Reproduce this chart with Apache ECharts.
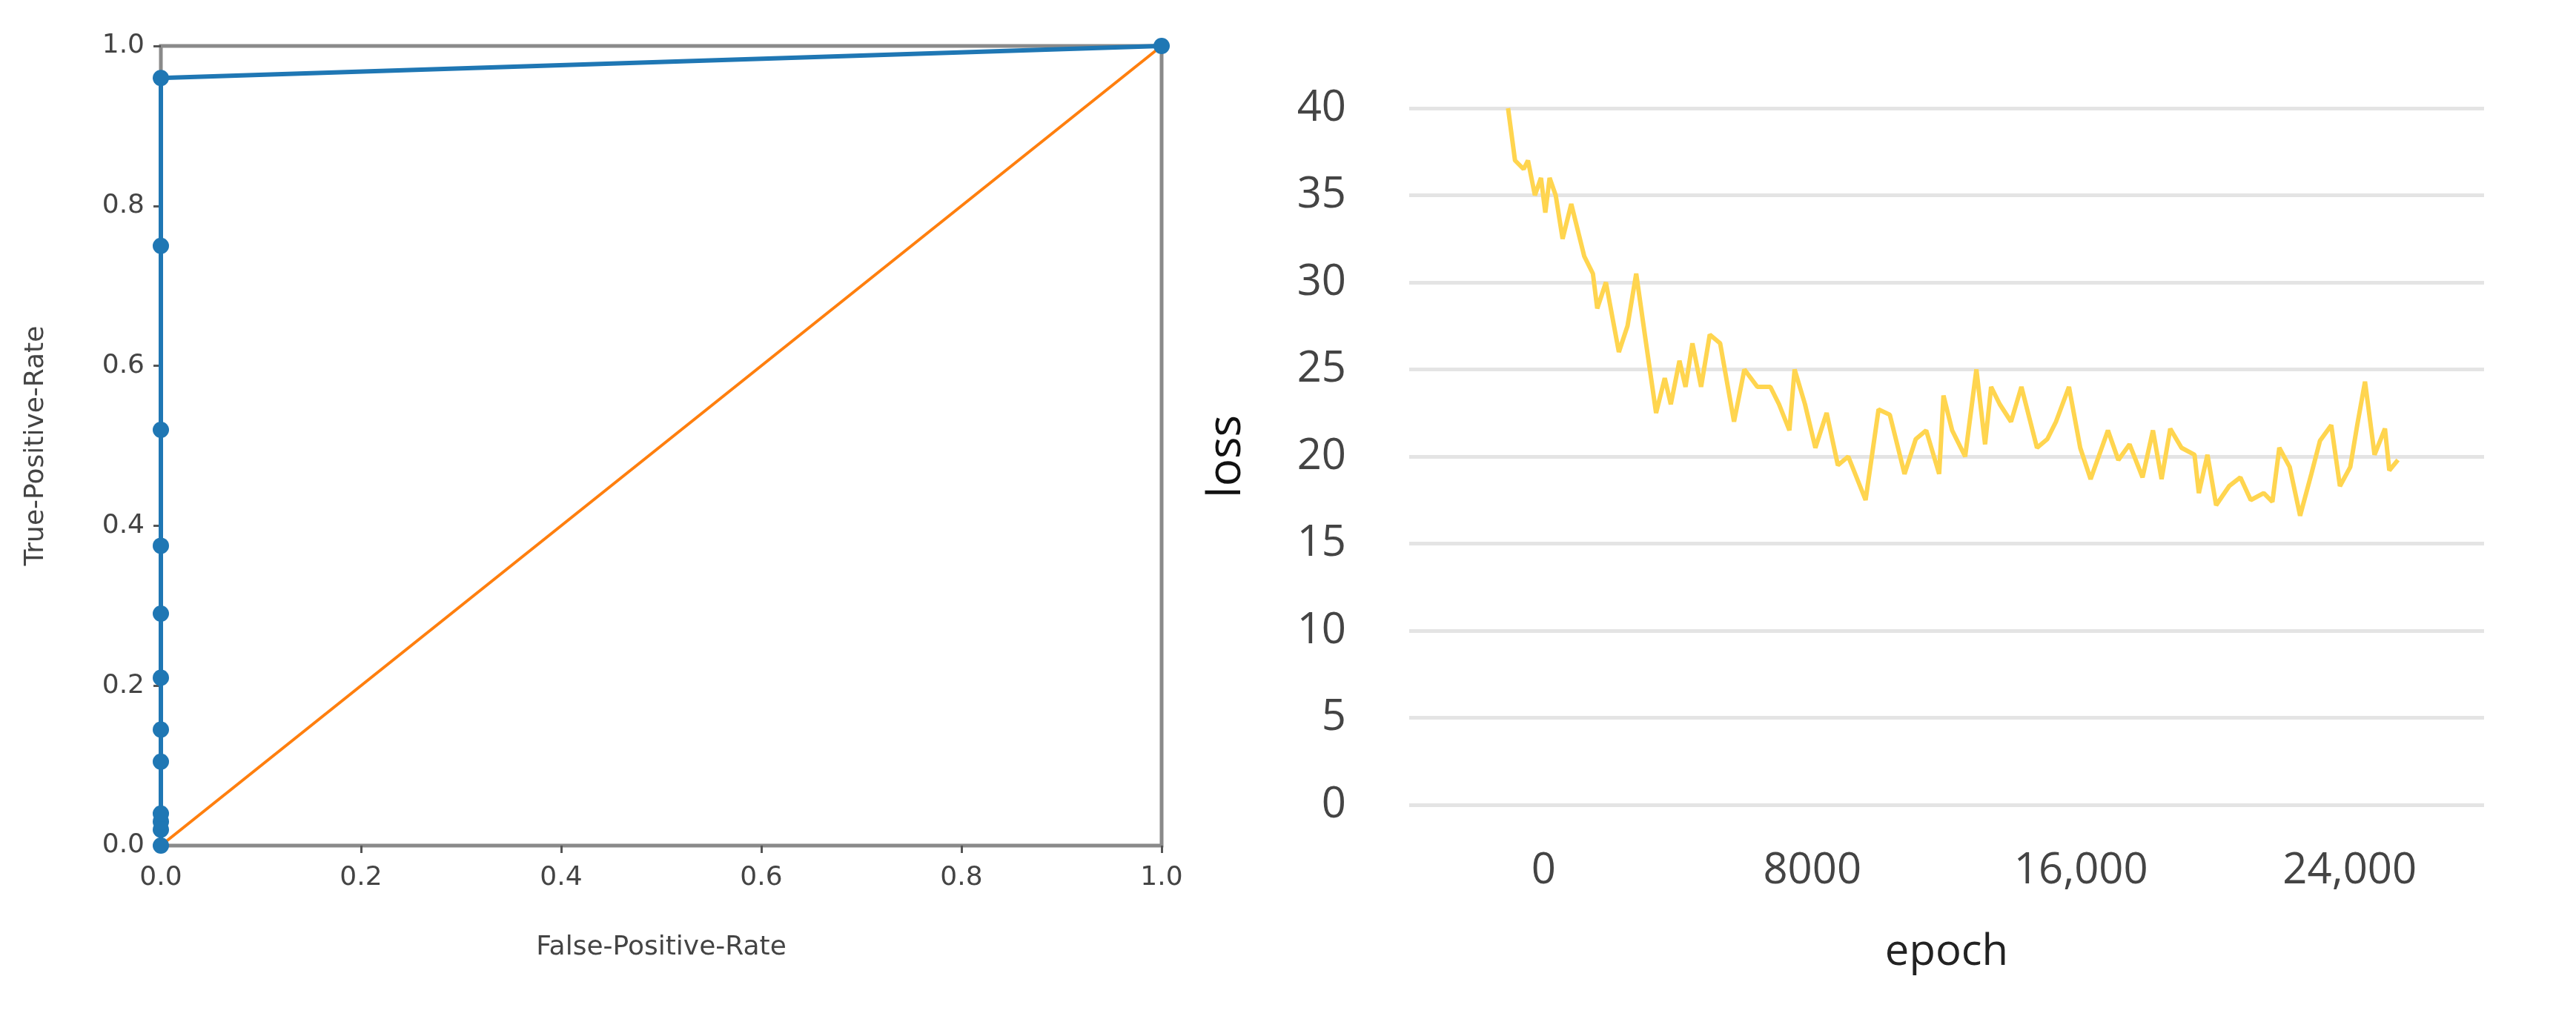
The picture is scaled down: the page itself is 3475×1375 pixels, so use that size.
<!DOCTYPE html>
<html>
<head>
<meta charset="utf-8">
<script src="https://cdn.jsdelivr.net/npm/echarts@6/dist/echarts.min.js"></script>
<style>html,body{margin:0;background:#fff}</style>
</head>
<body>
<div id="main" style="width:3475px;height:1375px;"></div>
<script>
// ROC points (all at FPR 0, then to (1,1))
var rocFpr = [0, 0, 0, 0, 0, 0, 0, 0, 0, 0, 0, 0];
var rocTpr = [0, 0.02, 0.03, 0.04, 0.105, 0.145, 0.21, 0.29, 0.375, 0.52, 0.75, 0.96];
var rocEnd = [1, 1];
var diagonal = [[0, 0], [1, 1]];

// loss curve
var epochs = [-1057,-850,-593,-464,-258,-77,52,180,361,567,825,1211,1469,1598,1856,2242,2500,2758,3015,3350,3608,3788,4046,4226,4432,4690,4948,5257,5670,5979,6365,6752,7010,7319,7474,7783,8092,8427,8762,9071,9587,9973,10308,10746,11081,11391,11777,11906,12164,12551,12886,13144,13324,13582,13917,14226,14690,14998,15256,15642,15977,16286,16802,17111,17446,17832,18142,18399,18657,18992,19379,19508,19765,20023,20410,20745,21054,21440,21698,21904,22213,22523,22858,23115,23450,23708,24017,24223,24455,24739,25049,25178,25436];
var loss = [40,37,36.5,37,35,36,34,36,35,32.5,34.5,31.5,30.5,28.5,30,26,27.5,30.5,27,22.5,24.5,23,25.5,24,26.5,24,27,26.5,22,25,24,24,23,21.5,25,23,20.5,22.5,19.5,20,17.5,22.7,22.4,19,21,21.5,19,23.5,21.5,20,25,20.7,24,23,22,24,20.5,21,22,24,20.5,18.7,21.5,19.8,20.7,18.8,21.5,18.7,21.6,20.5,20.1,17.9,20.1,17.2,18.3,18.8,17.5,17.9,17.4,20.5,19.4,16.6,19,20.9,21.8,18.3,19.4,21.8,24.3,20.1,21.6,19.2,19.8];
var epochTicks = [0, 8000, 16000, 24000];

var rocData = rocFpr.map(function (x, i) { return [x, rocTpr[i]]; });
var lossData = epochs.map(function (x, i) { return [x, loss[i]]; });

var chart = echarts.init(document.getElementById('main'));
var smallFont = {fontFamily: 'DejaVu Sans', fontSize: 36, color: '#444'};
chart.setOption({
  animation: false,
  grid: [
    {left: 217, right: 1908, top: 62, bottom: 234, show: true, borderColor: '#8a8a8a', borderWidth: 5},
    {left: 1901, right: 124, top: 146, bottom: 289}
  ],
  xAxis: [
    {gridIndex: 0, type: 'value', min: 0, max: 1, interval: 0.2,
     name: 'False-Positive-Rate', nameLocation: 'middle', nameGap: 120,
     nameTextStyle: smallFont,
     axisLine: {show: false}, axisTick: {show: true, length: 10, lineStyle: {color: '#555', width: 3}},
     splitLine: {show: false},
     axisLabel: Object.assign({margin: 26, formatter: function (v) { return v.toFixed(1); }}, smallFont)},
    {gridIndex: 1, type: 'value', min: -4000, max: 28000,
     name: 'epoch', nameLocation: 'middle', nameGap: 170,
     nameTextStyle: {fontFamily: 'Open Sans', fontSize: 58, color: '#222'},
     axisLine: {show: false}, axisTick: {show: false}, splitLine: {show: false},
     axisLabel: {customValues: epochTicks, margin: 60, fontFamily: 'Open Sans', fontSize: 58, color: '#444',
       formatter: function (v) { return v >= 10000 ? v.toLocaleString('en-US') : String(v); }}}
  ],
  yAxis: [
    {gridIndex: 0, type: 'value', min: 0, max: 1, interval: 0.2,
     name: 'True-Positive-Rate', nameLocation: 'middle', nameGap: 150,
     nameTextStyle: smallFont,
     axisLine: {show: false}, axisTick: {show: true, length: 10, lineStyle: {color: '#555', width: 3}},
     splitLine: {show: false},
     axisLabel: Object.assign({margin: 22, formatter: function (v) { return v.toFixed(1); }}, smallFont)},
    {gridIndex: 1, type: 'value', min: 0, max: 40, interval: 5,
     name: 'loss', nameLocation: 'middle', nameGap: 215,
     nameTextStyle: {fontFamily: 'Open Sans', fontSize: 62, color: '#111'},
     axisLine: {show: false}, axisTick: {show: false},
     splitLine: {lineStyle: {color: '#e4e4e4', width: 5}},
     axisLabel: {margin: 85, fontFamily: 'Open Sans', fontSize: 58, color: '#444'}}
  ],
  series: [
    {type: 'line', xAxisIndex: 0, yAxisIndex: 0, data: diagonal, symbol: 'none',
     lineStyle: {color: '#ff7f0e', width: 4}},
    {type: 'line', xAxisIndex: 0, yAxisIndex: 0, data: rocData.concat([rocEnd]), symbol: 'circle', symbolSize: 22,
     itemStyle: {color: '#1f77b4'}, lineStyle: {color: '#1f77b4', width: 6}},
    {type: 'line', xAxisIndex: 1, yAxisIndex: 1, data: lossData, symbol: 'none',
     lineStyle: {color: '#ffd54f', width: 6}}
  ]
});
</script>
</body>
</html>
